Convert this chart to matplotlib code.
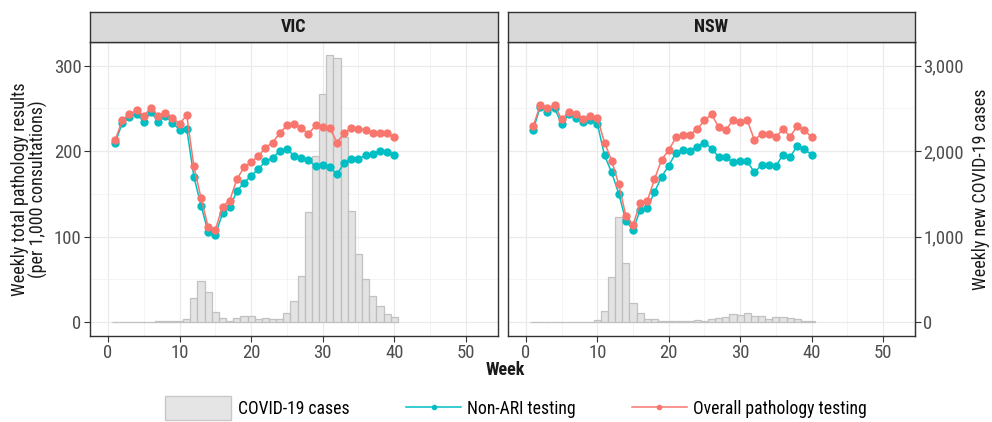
import numpy as np
import matplotlib
matplotlib.use('Agg')
import matplotlib.pyplot as plt
from matplotlib import font_manager
from matplotlib.patches import Rectangle
from matplotlib.lines import Line2D
from matplotlib.legend_handler import HandlerPatch

# look for a condensed / narrow sans, the reference uses one
fam, stretch = 'Roboto', 'normal'
narrow = [f for f in font_manager.fontManager.ttflist
          if ('Narrow' in f.name or 'Condensed' in f.name
              or f.stretch in ('condensed', 'semi-condensed'))
          and 'Mono' not in f.name and 'Serif' not in f.name]
for pref in ['Roboto', 'Liberation Sans', 'Noto Sans', 'Open Sans', 'DejaVu Sans']:
    hits = [f for f in narrow if f.name.startswith(pref)]
    if hits:
        fam, stretch = hits[0].name, hits[0].stretch
        break
plt.rcParams['font.family'] = [fam, 'DejaVu Sans']
plt.rcParams['font.stretch'] = stretch

weeks = np.arange(1, 41)

vic_overall = [213, 236, 243, 248, 241, 251, 241, 245, 239, 232,
               242, 182, 145, 111, 108, 135, 142, 167, 181, 187,
               194, 204, 210, 221, 230, 232, 227, 220, 230, 228,
               227, 210, 221, 227, 226, 225, 221, 221, 221, 216]
vic_nonari = [210, 233, 240, 244, 234, 246, 234, 241, 233, 225,
              226, 170, 136, 105, 102, 127, 134, 153, 163, 171,
              179, 188, 192, 200, 203, 194, 192, 190, 182, 184,
              181, 173, 186, 191, 191, 195, 197, 200, 199, 196]
vic_cases = [0, 0, 0, 3, 5, 5, 8, 10, 12, 8,
             40, 278, 476, 349, 115, 48, 16, 52, 75, 71,
             36, 48, 32, 40, 103, 250, 540, 1287, 1940, 2670,
             3120, 3090, 2170, 1300, 790, 508, 310, 190, 91, 60]

nsw_overall = [229, 254, 250, 254, 237, 246, 244, 238, 241, 239,
               210, 189, 161, 124, 114, 139, 142, 167, 190, 201,
               216, 219, 219, 226, 236, 243, 228, 225, 236, 234,
               236, 213, 220, 220, 216, 226, 217, 229, 225, 216]
nsw_nonari = [225, 252, 246, 250, 232, 243, 239, 234, 236, 232,
              195, 175, 150, 118, 108, 131, 133, 152, 170, 183,
              198, 201, 200, 205, 210, 203, 193, 193, 187, 189,
              188, 175, 184, 184, 182, 196, 193, 206, 202, 196]
nsw_cases = [0, 0, 0, 3, 3, 3, 3, 3, 3, 28,
             123, 528, 1229, 686, 222, 103, 32, 32, 12, 8,
             8, 8, 8, 20, 12, 32, 52, 63, 91, 87,
             107, 75, 71, 32, 60, 60, 52, 32, 12, 12]

states = ['VIC', 'NSW']
overall = [vic_overall, nsw_overall]
nonari = [vic_nonari, nsw_nonari]
cases = [vic_cases, nsw_cases]

red = '#F8766D'
teal = '#00BFC4'
border = '#333333'
fs_tick = 13.5
fs_title = 13
fs_leg = 12.7

fig = plt.figure(figsize=(9.92, 4.22), dpi=100)
lefts = [90/992, 508/992]
widths = [408/992, 407/992]
bottom = 1 - 336/422
height = 294/422
strip_h = 30/422

axes = []
for i in range(2):
    ax = fig.add_axes([lefts[i], bottom, widths[i], height])
    axes.append(ax)
    ax.set_xlim(-2.52, 54.5)
    ax.set_ylim(-16.4, 327.7)
    ax.set_xticks([0, 10, 20, 30, 40, 50])
    ax.set_xticks([5, 15, 25, 35, 45], minor=True)
    ax.set_yticks([0, 100, 200, 300])
    ax.set_yticks([50, 150, 250], minor=True)
    ax.grid(True, which='major', color='#EBEBEB', lw=0.9)
    ax.grid(True, which='minor', color='#F3F3F3', lw=0.6)
    ax.set_axisbelow(True)
    ax.tick_params(which='minor', length=0)
    ax.tick_params(which='major', length=4, width=0.8, color=border,
                   labelsize=fs_tick, labelcolor='#4D4D4D', pad=2)
    for s in ax.spines.values():
        s.set_color(border)
        s.set_linewidth(1.0)

    # cases drawn on the pathology scale (secondary axis = x10)
    ax.bar(weeks, np.array(cases[i]) / 10.0, width=1.0, color='#E0E0E0',
           edgecolor='#BDBDBD', linewidth=0.9, alpha=0.9, zorder=2)
    ax.plot(weeks, nonari[i], color=teal, lw=1.1, marker='o', ms=5, zorder=3)
    ax.plot(weeks, overall[i], color=red, lw=1.1, marker='o', ms=5, zorder=4)

    # facet strip
    sax = fig.add_axes([lefts[i], bottom + height, widths[i], strip_h])
    sax.set_xticks([])
    sax.set_yticks([])
    sax.set_facecolor('#D9D9D9')
    for s in sax.spines.values():
        s.set_color(border)
        s.set_linewidth(1.0)
    sax.text(0.5, 0.5, states[i], ha='center', va='center', fontsize=fs_title,
             fontweight='bold', color='#1A1A1A', transform=sax.transAxes)

axes[1].set_yticklabels([])
axes[1].tick_params(axis='y', length=0)

sec = axes[1].secondary_yaxis('right', functions=(lambda v: v * 10, lambda v: v / 10))
sec.set_yticks([0, 1000, 2000, 3000])
sec.set_yticklabels(['0', '1,000', '2,000', '3,000'])
sec.tick_params(length=4, width=0.8, color=border, labelsize=fs_tick,
                labelcolor='#4D4D4D', pad=2)
sec.spines['right'].set_color(border)
sec.set_ylabel('Weekly new COVID-19 cases', fontsize=fs_title, color='#1A1A1A', labelpad=6)

axes[0].set_ylabel('Weekly total pathology results\n(per 1,000 consultations)',
                   fontsize=fs_title, color='#1A1A1A', labelpad=4, linespacing=1.0)

fig.text(505/992, 1 - 370/422, 'Week', ha='center', va='center', fontsize=fs_title,
         fontweight='bold', color='#1A1A1A')


# wider key box for the bars entry, ending where the line keys end
def wide_box(legend, orig_handle, xdescent, ydescent, width, height, fontsize):
    return Rectangle((-xdescent - 0.22 * width, -ydescent - 0.25 * height),
                     width * 1.2, height * 1.5)


handles = [Rectangle((0, 0), 1, 1, facecolor='#E5E5E5', edgecolor='#C8C8C8'),
           Line2D([], [], color=teal, lw=1.1, marker='o', ms=3),
           Line2D([], [], color=red, lw=1.1, marker='o', ms=3)]
labels = ['COVID-19 cases', 'Non-ARI testing', 'Overall pathology testing']
fig.legend(handles, labels, loc='center', bbox_to_anchor=(522/992, 1 - 409/422),
           ncol=3, frameon=False, fontsize=fs_leg, handlelength=3.1, handleheight=1.0,
           handletextpad=0.35, columnspacing=3.2,
           handler_map={Rectangle: HandlerPatch(patch_func=wide_box)})

fig.savefig('out.png', dpi=100)
